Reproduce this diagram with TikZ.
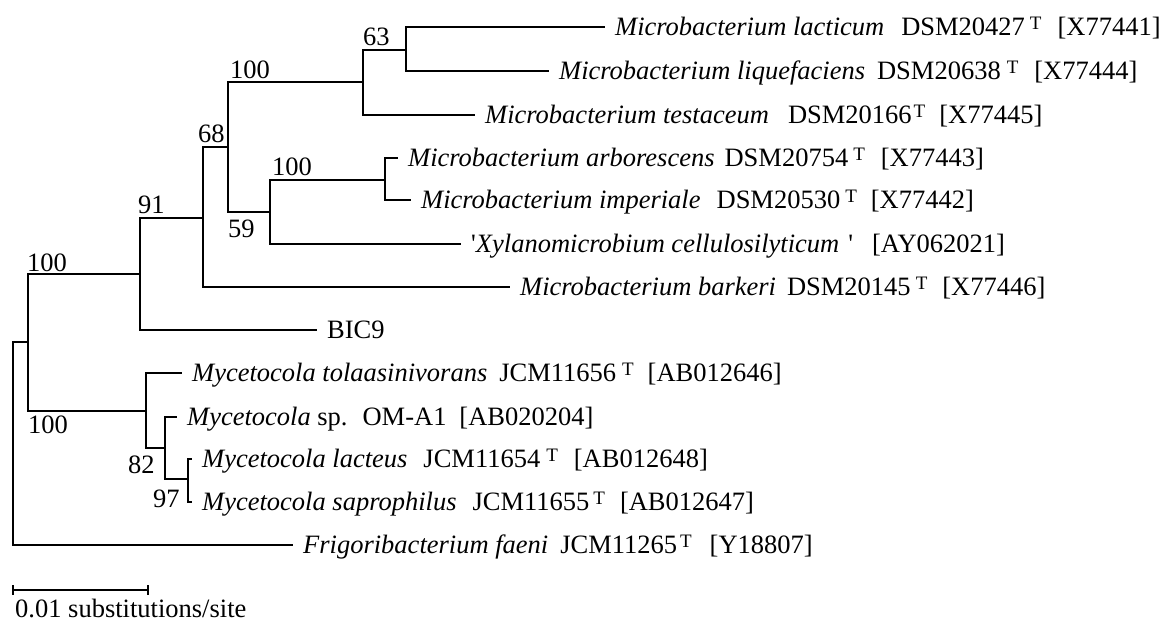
\documentclass[tikz,border=0pt]{standalone}
\usepackage{fontspec}
\setmainfont{Liberation Serif}
\newcommand{\tsup}{\raisebox{6pt}{\fontsize{19}{19}\selectfont T}}
\begin{document}
\begin{tikzpicture}[x=1pt,y=-1pt,
  br/.style={line width=2.2pt, line join=miter},
  leaf/.style={anchor=west, inner xsep=10pt, inner ysep=0pt, text height=17.5pt, text depth=0pt, font=\fontsize{26.5}{31}\selectfont},
  bs/.style={anchor=base west, inner sep=0pt, font=\fontsize{26.5}{31}\selectfont}]
\useasboundingbox[fill=white] (0,0) rectangle (1165,632);
% internal nodes
\coordinate (R) at (13,443);
\coordinate (A) at (28,342);
\coordinate (B) at (140,274);
\coordinate (C) at (203,218);
\coordinate (D) at (228,147);
\coordinate (E) at (363,82);
\coordinate (F) at (406,50);
\coordinate (G) at (270,212);
\coordinate (H) at (385,180);
\coordinate (M) at (146,411);
\coordinate (N) at (165,448);
\coordinate (P) at (188,479);
% leaves
\node[leaf] (l1) at (605,27) {\textit{Microbacterium lacticum}\hspace{17pt}DSM20427\hspace{5pt}\tsup\hspace{16pt}[X77441]};
\node[leaf] (l2) at (549,71) {\textit{Microbacterium liquefaciens}\hspace{12pt}DSM20638\hspace{6pt}\tsup\hspace{16pt}[X77444]};
\node[leaf] (l3) at (475,115) {\textit{Microbacterium testaceum}\hspace{19pt}DSM20166\hspace{2pt}\tsup\hspace{14pt}[X77445]};
\node[leaf] (l4) at (398,158) {\textit{Microbacterium arborescens}\hspace{10pt}DSM20754\hspace{5pt}\tsup\hspace{16pt}[X77443]};
\node[leaf] (l5) at (411,200) {\textit{Microbacterium imperiale}\hspace{16pt}DSM20530\hspace{5pt}\tsup\hspace{14pt}[X77442]};
\node[leaf] (l6) at (461,244) {\textquotesingle\textit{Xylanomicrobium cellulosilyticum}\hspace{9pt}\textquotesingle\hspace{19pt}[AY062021]};
\node[leaf] (l7) at (510,287) {\textit{Microbacterium barkeri}\hspace{11pt}DSM20145\hspace{5pt}\tsup\hspace{15pt}[X77446]};
\node[leaf] (l8) at (317,330) {BIC9};
\node[leaf] (l9) at (182,373) {\textit{Mycetocola tolaasinivorans}\hspace{12pt}JCM11656\hspace{6pt}\tsup\hspace{14pt}[AB012646]};
\node[leaf] (l10) at (177,417) {\textit{Mycetocola} sp.\hspace{15pt}OM-A1\hspace{13pt}[AB020204]};
\node[leaf] (l11) at (192,459) {\textit{Mycetocola lacteus}\hspace{16pt}JCM11654\hspace{6pt}\tsup\hspace{16pt}[AB012648]};
\node[leaf] (l12) at (192,502) {\textit{Mycetocola saprophilus}\hspace{16pt}JCM11655\hspace{4pt}\tsup\hspace{15pt}[AB012647]};
\node[leaf] (l13) at (293,545) {\textit{Frigoribacterium faeni}\hspace{12pt}JCM11265\hspace{3pt}\tsup\hspace{18pt}[Y18807]};
% branches
\draw[br] (R) |- (A);
\draw[br] (R) |- (l13.west);
\draw[br] (A) |- (B);
\draw[br] (A) |- (M);
\draw[br] (B) |- (C);
\draw[br] (B) |- (l8.west);
\draw[br] (C) |- (D);
\draw[br] (C) |- (l7.west);
\draw[br] (D) |- (E);
\draw[br] (D) |- (G);
\draw[br] (E) |- (F);
\draw[br] (E) |- (l3.west);
\draw[br] (F) |- (l1.west);
\draw[br] (F) |- (l2.west);
\draw[br] (G) |- (H);
\draw[br] (G) |- (l6.west);
\draw[br] (H) |- (l4.west);
\draw[br] (H) |- (l5.west);
\draw[br] (M) |- (l9.west);
\draw[br] (M) |- (N);
\draw[br] (N) |- (l10.west);
\draw[br] (N) |- (P);
\draw[br] (P) |- (l11.west);
\draw[br] (P) |- (l12.west);
% bootstrap values
\node[bs] (b1) at (27,271) {100};
\node[bs] (b2) at (138,213) {91};
\node[bs] (b3) at (198,142) {68};
\node[bs] (b4) at (230,78) {100};
\node[bs] (b5) at (363,45) {63};
\node[bs] (b6) at (228,237) {59};
\node[bs] (b7) at (272,175) {100};
\node[bs] (b8) at (28,433) {100};
\node[bs] (b9) at (128,473) {82};
\node[bs] (b10) at (153,507) {97};
% scale bar
\coordinate (s1) at (13,590);
\coordinate (s2) at (148,590);
\draw[line width=2pt] (s1) -- (s2);
\draw[line width=2pt] ([yshift=5pt]s1) -- ([yshift=-5pt]s1);
\draw[line width=2pt] ([yshift=5pt]s2) -- ([yshift=-5pt]s2);
\node[bs] (st) at (15,617) {0.01 substitutions/site};
\end{tikzpicture}
\end{document}
